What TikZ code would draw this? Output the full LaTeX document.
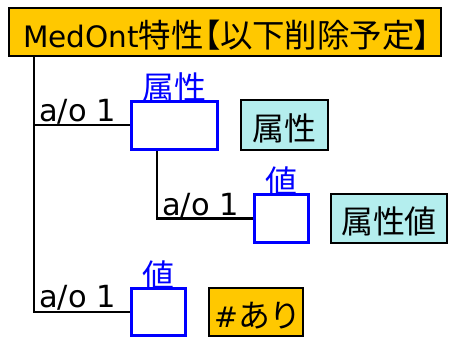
\documentclass[tikz,border=0pt]{standalone}
\usepackage{fontspec}
\setmainfont{DejaVu Sans}
\newfontfamily\jp{Noto Sans CJK JP}[Scale=1.12]
\newfontfamily\jpt{Noto Sans CJK JP}[Scale=1.1]
\newfontfamily\jpp{Noto Sans CJK JP}[Scale=1.1,RawFeature=+palt]
\definecolor{titleorange}{HTML}{FFC800}
\definecolor{paleteal}{HTML}{B4EEEE}
\definecolor{pureblue}{HTML}{0000FF}
\begin{document}
\begin{tikzpicture}[x=1pt,y=-1pt,
  txt/.style={font=\fontsize{28.5}{34}\selectfont},
  tag/.style={txt,draw=black,line width=2.2pt,inner sep=0pt,anchor=center,text height=34pt,text depth=4pt},
  slot/.style={draw=pureblue,line width=3pt,fill=white,inner sep=0pt,anchor=center},
  slotlabel/.style={txt,text=pureblue,inner sep=0pt,anchor=south},
  card/.style={font=\fontsize{30.5}{36}\selectfont,inner sep=0pt,anchor=base west},
  link/.style={line width=2.2pt,black}]
\useasboundingbox (0,0) rectangle (449,340);
% title
\node[tag,font=\fontsize{29.5}{34}\selectfont,fill=titleorange,minimum width=432pt,minimum height=48pt] (title) at (224.75,32) {\hspace{4.5pt}MedOnt{\jpt 特性}{\jpp 【}{\jpt 以下削除予定}{\jpp 】}};
% boxes
\node[slot,minimum width=86pt,minimum height=48pt] (box1) at (174.5,125) {};
\node[slotlabel] (lab1) at ([yshift=-3pt]box1.north) {\jp 属性};
\node[tag,fill=paleteal,minimum width=87pt,minimum height=50pt] (attr) at (284.5,125) {\jp 属性};
\node[slot,minimum width=54pt,minimum height=48pt] (box2) at (281.5,218.5) {};
\node[slotlabel] (lab2) at ([yshift=-3pt]box2.north) {\jp 値};
\node[tag,fill=paleteal,minimum width=116pt,minimum height=49pt] (attrval) at (389,218.5) {\jp 属性値};
\node[slot,minimum width=54pt,minimum height=47pt] (box3) at (158.5,312) {};
\node[slotlabel] (lab3) at ([yshift=-3pt]box3.north) {\jp 値};
\node[tag,fill=titleorange,minimum width=94pt,minimum height=48pt] (hash) at (256,312) {\hspace{4pt}\#{\jp あり}};
% trunks
\coordinate (trunk) at (34,0);
\coordinate (subtrunk) at (157,0);
\draw[link] (title.south -| trunk) |- (box3.west);
\draw[link] (trunk |- box1.west) -- (box1.west);
\draw[link] (box1.south -| subtrunk) |- (box2.west);
% cardinalities
\node[card] (c1) at (39,121) {a/o 1};
\node[card] (c2) at (162,215) {a/o 1};
\node[card] (c3) at (39,307) {a/o 1};
\end{tikzpicture}
\end{document}
